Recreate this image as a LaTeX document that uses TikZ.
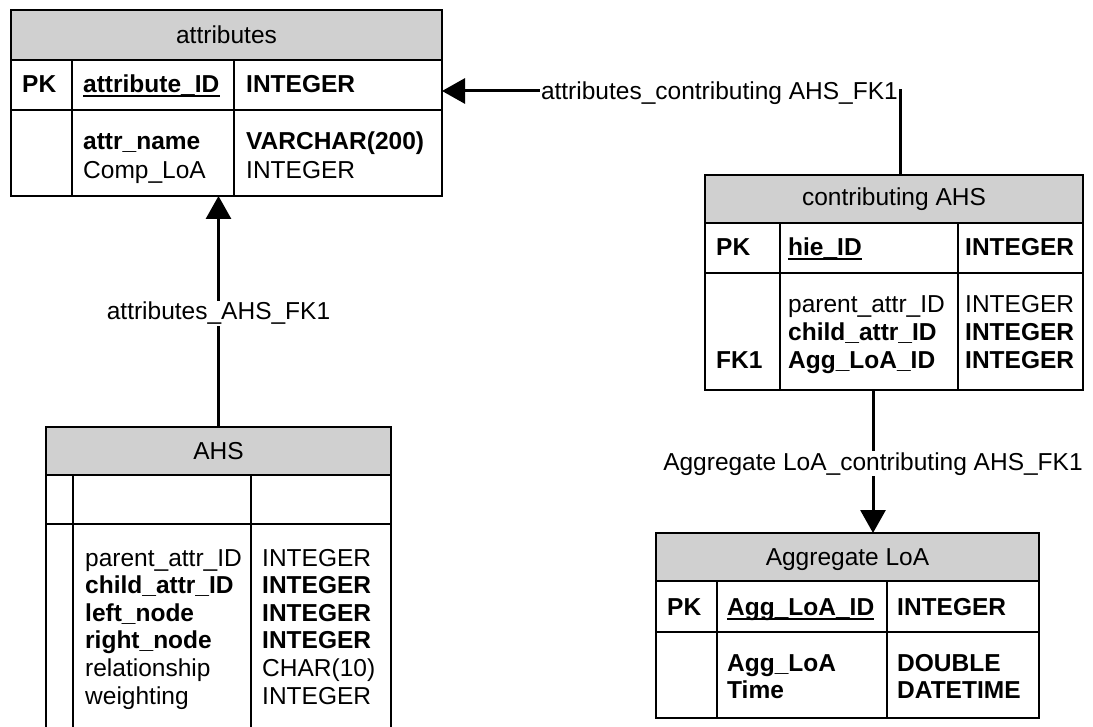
\documentclass[tikz,border=0pt]{standalone}
\usepackage{fontspec}
\setmainfont{Liberation Sans}
\usetikzlibrary{arrows.meta}
\definecolor{hdrgray}{RGB}{208,208,208}
\newcommand\tfont{\fontsize{24.5pt}{27.6pt}\selectfont}
\begin{document}
\begin{tikzpicture}[x=1pt,y=-1pt,
  tbl/.style={draw=none, inner sep=0pt, outer sep=0pt, anchor=north west},
  tline/.style={line width=2pt, draw=black},
  hdrfill/.style={fill=hdrgray},
  txt/.style={anchor=base west, inner sep=0pt, font=\tfont},
  btxt/.style={anchor=base west, inner sep=0pt, font=\tfont\bfseries},
  htxt/.style={anchor=base, inner sep=0pt, font=\tfont},
  lbl/.style={fill=white, inner sep=1pt, font=\tfont},
  conn/.style={line width=3pt, -{Triangle[length=23pt,width=25pt]}},
  uline/.style={line width=2pt}
]
\useasboundingbox (0,0) rectangle (1093,727);
\clip (0,0) rectangle (1093,727);

% ---------- attributes ----------
\node[tbl, minimum width=431pt, minimum height=186pt] (attributes) at (11,10) {};
\fill[white] (attributes.north west) rectangle (attributes.south east);
\fill[hdrfill] (11,10) rectangle (442,60);
\draw[tline] (11,60) -- (442,60) (11,110) -- (442,110) (72,60) -- (72,196) (234,60) -- (234,196);
\draw[tline] (attributes.north west) rectangle (attributes.south east);
\node[htxt] (atth) at (226.5,44) {attributes};
\node[btxt] (attpk) at (22,93) {PK};
\node[btxt] (attid) at (83,93) {attribute\_ID};
\draw[uline] ([yshift=-3.5pt]attid.base west) -- ([yshift=-3.5pt]attid.base east);
\node[btxt] (attidt) at (246,93) {INTEGER};
\node[btxt] (attn1) at (83,150) {attr\_name};
\node[btxt] (attt1) at (246,150) {VARCHAR(200)};
\node[txt] (attn2) at (83,179) {Comp\_LoA};
\node[txt] (attt2) at (246,179) {INTEGER};

% ---------- contributing AHS ----------
\node[tbl, minimum width=378pt, minimum height=215pt] (contrib) at (705,175) {};
\fill[white] (contrib.north west) rectangle (contrib.south east);
\fill[hdrfill] (705,175) rectangle (1083,223);
\draw[tline] (705,223) -- (1083,223) (705,273) -- (1083,273) (780,223) -- (780,390) (958,223) -- (958,390);
\draw[tline] (contrib.north west) rectangle (contrib.south east);
\node[htxt] (conh) at (894,206) {contributing AHS};
\node[btxt] (conpk) at (716,256) {PK};
\node[btxt] (conid) at (788,256) {hie\_ID};
\draw[uline] ([yshift=-3.5pt]conid.base west) -- ([yshift=-3.5pt]conid.base east);
\node[btxt] (conidt) at (965,256) {INTEGER};
\node[txt] (conn1) at (788,313) {parent\_attr\_ID};
\node[txt] (cont1) at (965,313) {INTEGER};
\node[btxt] (conn2) at (788,340.6) {child\_attr\_ID};
\node[btxt] (cont2) at (965,340.6) {INTEGER};
\node[btxt] (confk) at (716,368.2) {FK1};
\node[btxt] (conn3) at (788,368.2) {Agg\_LoA\_ID};
\node[btxt] (cont3) at (965,368.2) {INTEGER};

% ---------- Aggregate LoA ----------
\node[tbl, minimum width=383pt, minimum height=185pt] (agg) at (656,533) {};
\fill[white] (agg.north west) rectangle (agg.south east);
\fill[hdrfill] (656,533) rectangle (1039,581);
\draw[tline] (656,581) -- (1039,581) (656,632) -- (1039,632) (717,581) -- (717,718) (887,581) -- (887,718);
\draw[tline] (agg.north west) rectangle (agg.south east);
\node[htxt] (aggh) at (847.5,565) {Aggregate LoA};
\node[btxt] (aggpk) at (667,615) {PK};
\node[btxt] (aggid) at (727,615) {Agg\_LoA\_ID};
\draw[uline] ([yshift=-3.5pt]aggid.base west) -- ([yshift=-3.5pt]aggid.base east);
\node[btxt] (aggidt) at (897,615) {INTEGER};
\node[btxt] (aggn1) at (727,671) {Agg\_LoA};
\node[btxt] (aggt1) at (897,671) {DOUBLE};
\node[btxt] (aggn2) at (727,698.6) {Time};
\node[btxt] (aggt2) at (897,698.6) {DATETIME};

% ---------- AHS ----------
\node[tbl, minimum width=345pt, minimum height=340pt] (ahs) at (46,427) {};
\fill[white] (ahs.north west) rectangle (ahs.south east);
\fill[hdrfill] (46,427) rectangle (391,475);
\draw[tline] (46,475) -- (391,475) (46,524) -- (391,524) (73,475) -- (73,767) (251,475) -- (251,767);
\draw[tline] (ahs.north west) rectangle (ahs.south east);
\node[htxt] (ahsh) at (218.5,459) {AHS};
\node[txt] (ahsn1) at (85,566) {parent\_attr\_ID};
\node[txt] (ahst1) at (262,566) {INTEGER};
\node[btxt] (ahsn2) at (85,593.6) {child\_attr\_ID};
\node[btxt] (ahst2) at (262,593.6) {INTEGER};
\node[btxt] (ahsn3) at (85,621.2) {left\_node};
\node[btxt] (ahst3) at (262,621.2) {INTEGER};
\node[btxt] (ahsn4) at (85,648.8) {right\_node};
\node[btxt] (ahst4) at (262,648.8) {INTEGER};
\node[txt] (ahsn5) at (85,676.4) {relationship};
\node[txt] (ahst5) at (262,676.4) {CHAR(10)};
\node[txt] (ahsn6) at (85,704) {weighting};
\node[txt] (ahst6) at (262,704) {INTEGER};

% ---------- connectors ----------
\coordinate (k1) at (900,91);
\coordinate (k3) at (873,0);
\draw[conn] (contrib.north -| k1) -- (k1) -- (attributes.east |- k1);
\node[lbl, anchor=east] (l1) at (899,93) {attributes\_contributing AHS\_FK1};
\draw[conn] (ahs.north) -- (ahs.north |- attributes.south);
\node[lbl, anchor=base] (l2) at (218.5,320) {attributes\_AHS\_FK1};
\draw[conn] (contrib.south -| k3) -- (agg.north -| k3);
\node[lbl, anchor=base] (l3) at (873,470) {Aggregate LoA\_contributing AHS\_FK1};
\end{tikzpicture}
\end{document}
